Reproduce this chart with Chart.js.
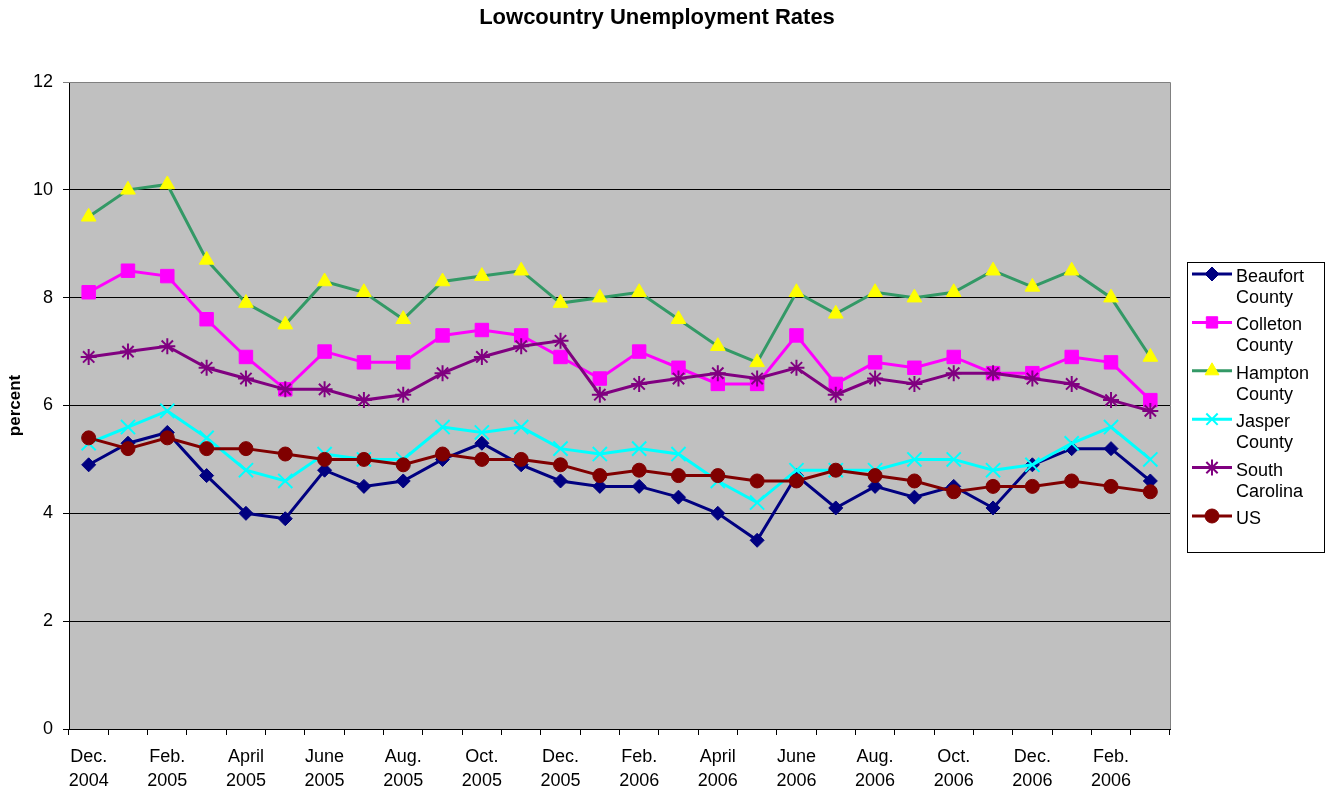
<!DOCTYPE html>
<html>
<head>
<meta charset="utf-8">
<script src="https://cdn.jsdelivr.net/npm/chart.js@4.4.1/dist/chart.umd.min.js"></script>
<style>
  html, body { margin: 0; padding: 0; background: #fff }
  #wrap { width: 1328px; height: 790px }
</style>
</head>
<body>
<div id="wrap"><canvas id="chart" width="1328" height="790"></canvas></div>
<script>
// months Dec 2004 .. Mar 2007 (28 points), every other one labelled
const months = ['Dec 2004','Jan 2005','Feb 2005','Mar 2005','Apr 2005','May 2005','Jun 2005','Jul 2005',
  'Aug 2005','Sep 2005','Oct 2005','Nov 2005','Dec 2005','Jan 2006','Feb 2006','Mar 2006','Apr 2006',
  'May 2006','Jun 2006','Jul 2006','Aug 2006','Sep 2006','Oct 2006','Nov 2006','Dec 2006','Jan 2007',
  'Feb 2007','Mar 2007']
const tickLabels = [
  ['Dec.','2004'], '', ['Feb.','2005'], '', ['April','2005'], '', ['June','2005'], '',
  ['Aug.','2005'], '', ['Oct.','2005'], '', ['Dec.','2005'], '', ['Feb.','2006'], '',
  ['April','2006'], '', ['June','2006'], '', ['Aug.','2006'], '', ['Oct.','2006'], '',
  ['Dec.','2006'], '', ['Feb.','2006'], ''
]
const yTicks = [0, 2, 4, 6, 8, 10, 12]

const beaufort = [4.9,5.3,5.5,4.7,4.0,3.9,4.8,4.5,4.6,5.0,5.3,4.9,4.6,4.5,4.5,4.3,4.0,3.5,4.7,4.1,4.5,4.3,4.5,4.1,4.9,5.2,5.2,4.6]
const colleton = [8.1,8.5,8.4,7.6,6.9,6.3,7.0,6.8,6.8,7.3,7.4,7.3,6.9,6.5,7.0,6.7,6.4,6.4,7.3,6.4,6.8,6.7,6.9,6.6,6.6,6.9,6.8,6.1]
const hampton  = [9.5,10.0,10.1,8.7,7.9,7.5,8.3,8.1,7.6,8.3,8.4,8.5,7.9,8.0,8.1,7.6,7.1,6.8,8.1,7.7,8.1,8.0,8.1,8.5,8.2,8.5,8.0,6.9]
const jasper   = [5.3,5.6,5.9,5.4,4.8,4.6,5.1,5.0,5.0,5.6,5.5,5.6,5.2,5.1,5.2,5.1,4.6,4.2,4.8,4.8,4.8,5.0,5.0,4.8,4.9,5.3,5.6,5.0]
const southCarolina = [6.9,7.0,7.1,6.7,6.5,6.3,6.3,6.1,6.2,6.6,6.9,7.1,7.2,6.2,6.4,6.5,6.6,6.5,6.7,6.2,6.5,6.4,6.6,6.6,6.5,6.4,6.1,5.9]
const us       = [5.4,5.2,5.4,5.2,5.2,5.1,5.0,5.0,4.9,5.1,5.0,5.0,4.9,4.7,4.8,4.7,4.7,4.6,4.6,4.8,4.7,4.6,4.4,4.5,4.5,4.6,4.5,4.4]

const FONT = "'Liberation Sans', Arial, sans-serif"

function series(label, data, line, marker, style, radius, bw, idx) {
  return {
    label, data,
    legendText: label.split(' '),
    borderColor: line, borderWidth: 3,
    pointStyle: style, pointRadius: radius, pointHoverRadius: radius,
    pointBackgroundColor: marker, pointBorderColor: marker, pointBorderWidth: bw,
    tension: 0, order: 5 - idx
  }
}

const datasets = [
  series('Beaufort County', beaufort, '#000080', '#000080', 'rectRot', 7, 1, 0),
  series('Colleton County', colleton, '#FF00FF', '#FF00FF', 'rect', 9.5, 1, 1),
  series('Hampton County', hampton, '#339966', '#FFFF00', 'triangle', 8.5, 1, 2),
  series('Jasper County', jasper, '#00FFFF', '#00FFFF', 'crossRot', 10, 2, 3),
  series('South Carolina', southCarolina, '#800080', '#800080', 'star', 8, 2, 4),
  series('US', us, '#800000', '#800000', 'circle', 7, 1, 5)
]

// plot background, frame, title and the boxed legend
const decor = {
  id: 'decor',
  beforeDraw(chart) {
    const { ctx, chartArea: a } = chart
    ctx.save()
    ctx.fillStyle = '#C0C0C0'
    ctx.fillRect(a.left, a.top, a.right - a.left, a.bottom - a.top)
    ctx.restore()
  },
  afterDraw(chart) {
    const { ctx, chartArea: a } = chart
    ctx.save()
    ctx.strokeStyle = '#808080'
    ctx.lineWidth = 1
    ctx.beginPath()
    ctx.moveTo(a.left, a.top + 0.5); ctx.lineTo(a.right + 0.5, a.top + 0.5); ctx.lineTo(a.right + 0.5, a.bottom)
    ctx.stroke()

    ctx.fillStyle = '#000'
    ctx.font = 'bold 22px ' + FONT
    ctx.textAlign = 'center'
    ctx.textBaseline = 'middle'
    ctx.fillText('Lowcountry Unemployment Rates', 657, 18)

    // legend
    const lx = 1187, ly = 262, lw = 137, lh = 290
    ctx.fillStyle = '#fff'
    ctx.fillRect(lx, ly, lw, lh)
    ctx.strokeStyle = '#000'
    ctx.strokeRect(lx + 0.5, ly + 0.5, lw, lh)
    ctx.font = '18px ' + FONT
    ctx.textAlign = 'left'
    chart.data.datasets.forEach((ds, i) => {
      const y = 274 + i * 48.4
      ctx.strokeStyle = ds.borderColor
      ctx.lineWidth = 3
      ctx.beginPath(); ctx.moveTo(1192, y); ctx.lineTo(1232, y); ctx.stroke()
      ctx.fillStyle = ds.pointBackgroundColor
      ctx.strokeStyle = ds.pointBorderColor
      ctx.lineWidth = ds.pointBorderWidth
      const r = Math.min(ds.pointRadius, 8)
      if (Chart.helpers && Chart.helpers.drawPoint) {
        Chart.helpers.drawPoint(ctx, { pointStyle: ds.pointStyle, radius: r, borderWidth: ds.pointBorderWidth, rotation: 0 }, 1212, y)
      }
      ctx.fillStyle = '#000'
      ds.legendText.forEach((t, k) => ctx.fillText(t, 1236, y + 3 + k * 21))
    })
    ctx.restore()
  }
}

new Chart(document.getElementById('chart'), {
  type: 'line',
  data: { labels: months, datasets },
  options: {
    responsive: false,
    animation: false,
    layout: { padding: { left: 0, top: 82, right: 158, bottom: 0 } },
    plugins: { legend: { display: false }, title: { display: false }, tooltip: { enabled: false } },
    scales: {
      x: {
        offset: true,
        afterFit: s => { s.height = 61 },
        grid: { offset: true, drawOnChartArea: false, drawTicks: true, tickLength: 6, color: '#000' },
        border: { color: '#000', width: 1 },
        ticks: {
          autoSkip: false, maxRotation: 0, minRotation: 0, padding: 11,
          color: '#000', font: { family: FONT, size: 18, lineHeight: 1.28 },
          callback: (v, i) => tickLabels[i]
        }
      },
      y: {
        min: 0, max: 12,
        afterFit: s => { s.width = 69 },
        afterBuildTicks: s => { s.ticks = yTicks.map(v => ({ value: v })) },
        grid: {
          color: c => c.tick && c.tick.value === 12 ? '#808080' : '#000',
          lineWidth: 1, tickLength: 6
        },
        border: { color: '#000', width: 1 },
        ticks: { padding: 10, color: '#000', font: { family: FONT, size: 18 } },
        title: { display: true, text: 'percent', color: '#000', padding: { top: 5, bottom: 0 },
                 font: { family: FONT, size: 17, weight: 'bold' } }
      }
    }
  },
  plugins: [decor]
})
</script>
</body>
</html>
